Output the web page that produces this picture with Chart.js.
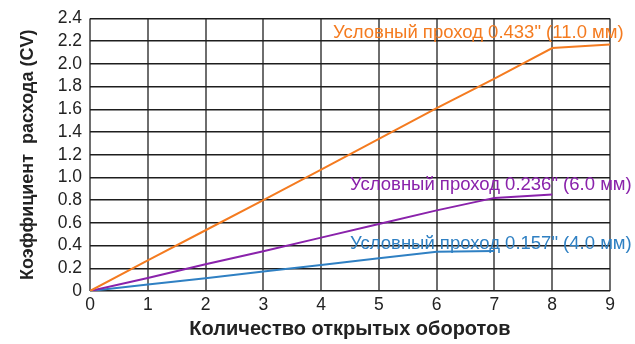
<!DOCTYPE html>
<html>
<head>
<meta charset="utf-8">
<script src="https://cdn.jsdelivr.net/npm/chart.js@4"></script>
<style>
  html, body { margin: 0; padding: 0; background: #fff; }
  #wrap { width: 635px; height: 344px; }
</style>
</head>
<body>
<div id="wrap"><canvas id="myChart"></canvas></div>
<script>
const myChart = document.getElementById('myChart');

// обороты и Cv для каждого условного прохода
const TURNS    = [0, 1, 2, 3, 4, 5, 6, 7, 8, 9];
const CV_11MM  = [0, 0.27, 0.535, 0.80, 1.07, 1.34, 1.61, 1.87, 2.14, 2.17];
const CV_6MM   = [0, 0.115, 0.235, 0.35, 0.47, 0.59, 0.71, 0.82, 0.85];
const CV_4MM   = [0, 0.057, 0.113, 0.172, 0.23, 0.288, 0.345, 0.352];
const LABELS   = [
    'Условный проход 0.433" (11.0 мм)',
    'Условный проход 0.236" (6.0 мм)',
    'Условный проход 0.157" (4.0 мм)'
];
const COLORS   = ['#f47b20', '#8a22ab', '#2f80c3'];

function points(values){
    let array = [];
    for (let i = 0; i < values.length; i++){
        array.push({x: TURNS[i], y: values[i]});
    };
    return array;
};

// подписи линий прямо на графике
const lineLabels = {
    id: 'lineLabels',
    afterDatasetsDraw(chart){
        const ctx  = chart.ctx;
        const area = chart.chartArea;
        const pos  = [
            [area.left + 243, area.top + 14],
            [area.left + 260, area.top + 166],
            [area.left + 260, area.top + 225]
        ];
        ctx.save();
        ctx.font = '18.5px "Liberation Sans", Arial, sans-serif';
        ctx.textAlign = 'left';
        ctx.textBaseline = 'middle';
        for (let i = 0; i < LABELS.length; i++){
            ctx.fillStyle = COLORS[i];
            ctx.fillText(LABELS[i], pos[i][0], pos[i][1]);
        };
        ctx.restore();
    }
};

const lineChart = new Chart(myChart, {
    type: 'line',
    data: {
        datasets: [CV_11MM, CV_6MM, CV_4MM].map((values, i) => ({
            label: LABELS[i],
            data: points(values),
            borderColor: COLORS[i],
            borderWidth: 2,
            pointRadius: 0,
            tension: 0
        }))
    },
    options: {
        responsive: true,
        maintainAspectRatio: false,
        animation: false,
        layout: { padding: { left: 0, right: 25, top: 16, bottom: 0 } },
        plugins: {
            legend: { display: false },
            tooltip: { enabled: false }
        },
        scales: {
            x: {
                type: 'linear',
                min: 0,
                max: 9,
                afterFit(scale){ scale.height = 53; },
                border: { display: false },
                grid: { color: '#6e6e6e', lineWidth: 2, drawTicks: false },
                ticks: {
                    stepSize: 1,
                    autoSkip: false,
                    padding: 4,
                    color: '#222',
                    font: { family: '"Liberation Sans", Arial, sans-serif', size: 17.5 }
                },
                title: {
                    display: true,
                    text: 'Количество открытых оборотов',
                    color: '#222',
                    padding: { top: 0, bottom: 3 },
                    font: { family: '"Liberation Sans", Arial, sans-serif', size: 20, weight: 'bold' }
                }
            },
            y: {
                min: 0,
                max: 2.4,
                afterFit(scale){ scale.width = 90; },
                border: { display: false },
                grid: { color: '#1e1e1e', lineWidth: 1.5, drawTicks: false },
                ticks: {
                    stepSize: 0.2,
                    autoSkip: false,
                    padding: 8,
                    color: '#222',
                    font: { family: '"Liberation Sans", Arial, sans-serif', size: 17.5 },
                    callback: (v) => v === 0 ? '0' : v.toFixed(1)
                },
                title: {
                    display: true,
                    text: 'Коэффициент  расхода (CV)',
                    color: '#222',
                    padding: { top: 17, bottom: 0 },
                    font: { family: '"Liberation Sans", Arial, sans-serif', size: 18, weight: 'bold' }
                }
            }
        }
    },
    plugins: [lineLabels]
});
</script>
</body>
</html>
